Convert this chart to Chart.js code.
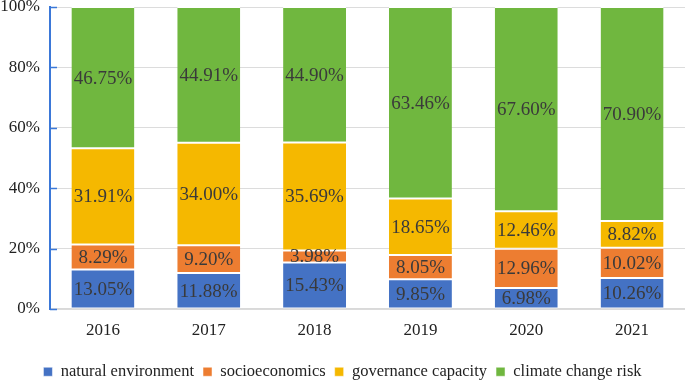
<!DOCTYPE html>
<html lang="en">
<head>
    <meta charset="UTF-8">
    <title>Stacked shares</title>
    <script src="https://cdn.jsdelivr.net/npm/chart.js@4.4.0/dist/chart.umd.min.js"></script>
    <style>
        html, body { margin: 0; padding: 0; background: #fff; }
        #wrap { width: 685px; height: 382px; }
    </style>
</head>
<body>
    <div id="wrap"><canvas id="chart"></canvas></div>
    <script>
        const years = ["2016", "2017", "2018", "2019", "2020", "2021"];
        const naturalEnv = [13.05, 11.88, 15.43, 9.85, 6.98, 10.26];
        const socioeco = [8.29, 9.20, 3.98, 8.05, 12.96, 10.02];
        const governance = [31.91, 34.00, 35.69, 18.65, 12.46, 8.82];
        const climateRisk = [46.75, 44.91, 44.90, 63.46, 67.60, 70.90];
        const yTicks = [0, 20, 40, 60, 80, 100];

        const serif = "'Liberation Serif', 'Times New Roman', serif";

        // value in the middle of every segment
        const segLabels = {
            id: 'segLabels',
            afterDatasetsDraw(chart) {
                const ctx = chart.ctx;
                ctx.save();
                ctx.font = "19px " + serif;
                ctx.fillStyle = '#3a3a3a';
                ctx.textAlign = 'center';
                ctx.textBaseline = 'middle';
                chart.data.datasets.forEach((ds, i) => {
                    chart.getDatasetMeta(i).data.forEach((bar, j) => {
                        const mid = (bar.y + bar.base) / 2;
                        ctx.fillText(ds.data[j].toFixed(2) + '%', bar.x, mid + 1);
                    });
                });
                ctx.restore();
            }
        };

        // short blue marks on the inner side of the y axis
        const axisMarks = {
            id: 'axisMarks',
            afterDraw(chart) {
                const y = chart.scales.y, ctx = chart.ctx;
                ctx.save();
                ctx.strokeStyle = '#3b78d8';
                ctx.lineWidth = 1.5;
                yTicks.forEach(v => {
                    const py = Math.round(y.getPixelForValue(v)) + 0.5;
                    ctx.beginPath();
                    ctx.moveTo(y.right, py);
                    ctx.lineTo(y.right + 7, py);
                    ctx.stroke();
                });
                ctx.restore();
            }
        };

        function ds(label, data, color) {
            return {
                label: label,
                data: data,
                backgroundColor: color,
                borderColor: '#fff',
                borderWidth: { top: 1, bottom: 1 },
                borderSkipped: false,
                barPercentage: 0.595,
                categoryPercentage: 1.0
            };
        }

        new Chart(document.getElementById('chart'), {
            type: 'bar',
            data: {
                labels: years,
                datasets: [
                    ds('natural environment', naturalEnv, '#4472c4'),
                    ds('socioeconomics', socioeco, '#ed7d31'),
                    ds('governance capacity', governance, '#f5b800'),
                    ds('climate change risk', climateRisk, '#70b73f')
                ]
            },
            options: {
                responsive: true,
                maintainAspectRatio: false,
                animation: false,
                layout: { padding: { top: 0, right: 0, left: 0, bottom: -8 } },
                plugins: {
                    tooltip: { enabled: false },
                    legend: {
                        position: 'bottom',
                        labels: {
                            boxWidth: 9,
                            boxHeight: 9,
                            padding: 9,
                            color: '#222',
                            font: { family: serif, size: 16.5 }
                        }
                    }
                },
                scales: {
                    x: {
                        stacked: true,
                        grid: { display: false, drawTicks: false },
                        border: { color: '#d9d9d9', width: 1.5 },
                        ticks: { color: '#222', padding: 11, font: { family: serif, size: 17 } },
                        afterFit(axis) { axis.height = 45.5; }
                    },
                    y: {
                        stacked: true,
                        min: 0,
                        max: 100,
                        afterBuildTicks(axis) {
                            axis.ticks = yTicks.map(v => ({ value: v }));
                        },
                        afterFit(axis) { axis.paddingTop = 7; axis.width = 50; },
                        grid: { color: '#dcdcdc', drawTicks: false },
                        border: { color: '#3b78d8', width: 2 },
                        ticks: {
                            color: '#222',
                            padding: 10,
                            font: { family: serif, size: 17 },
                            callback: v => v + '%'
                        }
                    }
                }
            },
            plugins: [segLabels, axisMarks]
        });
    </script>
</body>
</html>
